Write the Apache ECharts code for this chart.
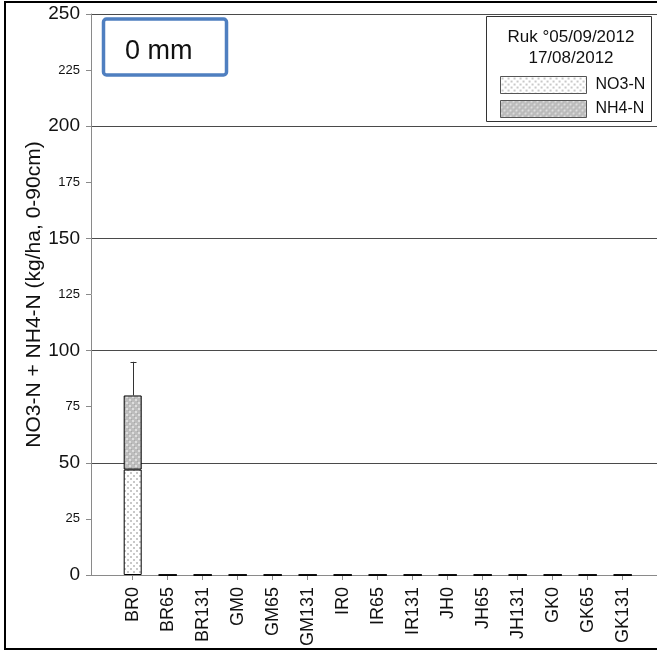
<!DOCTYPE html>
<html>
<head>
<meta charset="utf-8">
<script src="https://cdn.jsdelivr.net/npm/echarts@6/dist/echarts.min.js"></script>
<style>
html,body{margin:0;padding:0;background:#fff;}
#c{width:657px;height:651px;}
</style>
</head>
<body>
<div id="c"></div>
<script>
// ---- data ----
const categories = ['BR0','BR65','BR131','GM0','GM65','GM131','IR0','IR65','IR131','JH0','JH65','JH131','GK0','GK65','GK131'];
const no3n = [47, 0, 0, 0, 0, 0, 0, 0, 0, 0, 0, 0, 0, 0, 0];
const nh4n = [33, 0, 0, 0, 0, 0, 0, 0, 0, 0, 0, 0, 0, 0, 0];
const errPlus = [15, 0, 0, 0, 0, 0, 0, 0, 0, 0, 0, 0, 0, 0, 0];
const yTicks = [0, 25, 50, 75, 100, 125, 150, 175, 200, 225, 250];
const legendTitle = 'Ruk °05/09/2012\n17/08/2012';
const boxLabel = '0 mm';
const yName = 'NO3-N + NH4-N (kg/ha, 0-90cm)';

// ---- patterns ----
function dotPattern() {
  const c = document.createElement('canvas'); c.width = 6; c.height = 6;
  const g = c.getContext('2d');
  g.fillStyle = '#ffffff'; g.fillRect(0, 0, 6, 6);
  g.fillStyle = '#c8c8c8';
  g.fillRect(1, 1, 2, 2); g.fillRect(4, 4, 2, 2);
  return c;
}
function hatchPattern() {
  const c = document.createElement('canvas'); c.width = 6; c.height = 6;
  const g = c.getContext('2d');
  g.fillStyle = '#bdbdbd'; g.fillRect(0, 0, 6, 6);
  g.fillStyle = '#dedede';
  g.fillRect(0, 0, 2, 2); g.fillRect(3, 3, 2, 2);
  g.fillStyle = '#a9a9a9';
  g.fillRect(2, 2, 1, 1); g.fillRect(5, 5, 1, 1);
  return c;
}
const dotFill = { image: dotPattern(), repeat: 'repeat' };
const hatchFill = { image: hatchPattern(), repeat: 'repeat' };

const totals = no3n.map((v, i) => v + nh4n[i]);
const errData = categories.map((c, i) => [i, totals[i], totals[i] + errPlus[i], errPlus[i]]);

const chart = echarts.init(document.getElementById('c'), null, { renderer: 'canvas' });
const font = '"Liberation Sans", Arial, sans-serif';

chart.setOption({
  animation: false,
  backgroundColor: '#ffffff',
  textStyle: { fontFamily: font },
  grid: [
    { left: 91, top: 14, width: 600, height: 561, containLabel: false },
    { left: 115.2, top: 14, width: 525, height: 561, containLabel: false }
  ],
  xAxis: [
    { type: 'value', gridIndex: 0, min: 0, max: 1, axisLine: { show: true, lineStyle: { color: '#8a8a8a', width: 1 } },
      axisTick: { show: false }, axisLabel: { show: false }, splitLine: { show: false } },
    { type: 'category', gridIndex: 1, data: categories, boundaryGap: true,
      axisLine: { show: false },
      axisTick: { show: true, alignWithLabel: true, length: 5, lineStyle: { color: '#8a8a8a' } },
      axisLabel: { rotate: 90, margin: 12, fontSize: 18, color: '#111', fontFamily: font, interval: 0 },
      splitLine: { show: false } }
  ],
  yAxis: [
    { type: 'value', gridIndex: 0, min: 0, max: 250, interval: 25,
      name: yName, nameLocation: 'middle', nameRotate: 90, nameGap: 46, nameMoveOverlap: false,
      nameTextStyle: { fontSize: 21, color: '#111', fontFamily: font },
      axisLine: { show: true, lineStyle: { color: '#8a8a8a' } },
      axisTick: { show: true, length: 5, inside: false, lineStyle: { color: '#8a8a8a' } },
      axisLabel: { margin: 11, color: '#111', fontFamily: font,
        formatter: v => (v % 50 === 0 ? '{b|' + v + '}' : '{s|' + v + '}'),
        rich: { b: { fontSize: 19, fontFamily: font, color: '#111' }, s: { fontSize: 13, fontFamily: font, color: '#111' } } },
      splitLine: { show: true, lineStyle: { color: ['#4a4a4a', 'rgba(0,0,0,0)'], width: 1 } } },
    { type: 'value', gridIndex: 1, min: 0, max: 250, show: false, splitLine: { show: false } }
  ],
  legend: {
    orient: 'vertical', left: 495, top: 71, itemWidth: 86, itemHeight: 17, itemGap: 6,
    icon: 'rect',
    itemStyle: { borderColor: '#555', borderWidth: 1 },
    data: ['NO3-N', 'NH4-N'],
    textStyle: { fontSize: 16, color: '#111', fontFamily: font, padding: [0, 0, 0, 4] },
    selectedMode: false
  },
  title: {
    text: legendTitle, left: 566, top: 22, textAlign: 'center',
    textStyle: { fontSize: 17, fontWeight: 'normal', color: '#111', fontFamily: font, lineHeight: 21 }
  },
  graphic: [
    { type: 'rect', shape: { x: 5, y: 2, width: 670, height: 647 }, style: { fill: 'none', stroke: '#000', lineWidth: 2 }, z: 100, silent: true },
    { type: 'rect', shape: { x: 486.5, y: 16.5, width: 165, height: 105 }, style: { fill: '#fff', stroke: '#333', lineWidth: 1 }, z: 0, silent: true },
    { type: 'rect', shape: { x: 103.5, y: 19, width: 123, height: 56, r: 3 }, style: { fill: '#fff', stroke: '#4f7fc0', lineWidth: 3.5 }, z: 50, silent: true },
    { type: 'text', x: 125, y: 52, style: { text: boxLabel, fontSize: 27, fontFamily: font, fill: '#111', textVerticalAlign: 'middle' }, z: 51, silent: true }
  ],
  series: [
    { name: 'NO3-N', type: 'bar', xAxisIndex: 1, yAxisIndex: 1, stack: 'n', barWidth: 18, data: no3n,
      itemStyle: { color: dotFill, borderColor: '#000', borderWidth: 1 } },
    { name: 'NH4-N', type: 'bar', xAxisIndex: 1, yAxisIndex: 1, stack: 'n', barWidth: 18, data: nh4n,
      itemStyle: { color: hatchFill, borderColor: '#000', borderWidth: 1 } },
    { name: 'err', type: 'custom', xAxisIndex: 1, yAxisIndex: 1, data: errData, z: 5,
      renderItem: function (params, api) {
        if (!api.value(3)) return null;
        const lo = api.coord([api.value(0), api.value(1)]);
        const hi = api.coord([api.value(0), api.value(2)]);
        const x = Math.round(lo[0]) + 0.5;
        const cap = 3;
        return { type: 'group', children: [
          { type: 'line', shape: { x1: x, y1: lo[1], x2: x, y2: hi[1] }, style: { stroke: '#333', lineWidth: 1 } },
          { type: 'line', shape: { x1: x - cap, y1: Math.round(hi[1]) + 0.5, x2: x + cap, y2: Math.round(hi[1]) + 0.5 }, style: { stroke: '#333', lineWidth: 1 } }
        ] };
      } }
  ]
});
</script>
</body>
</html>
